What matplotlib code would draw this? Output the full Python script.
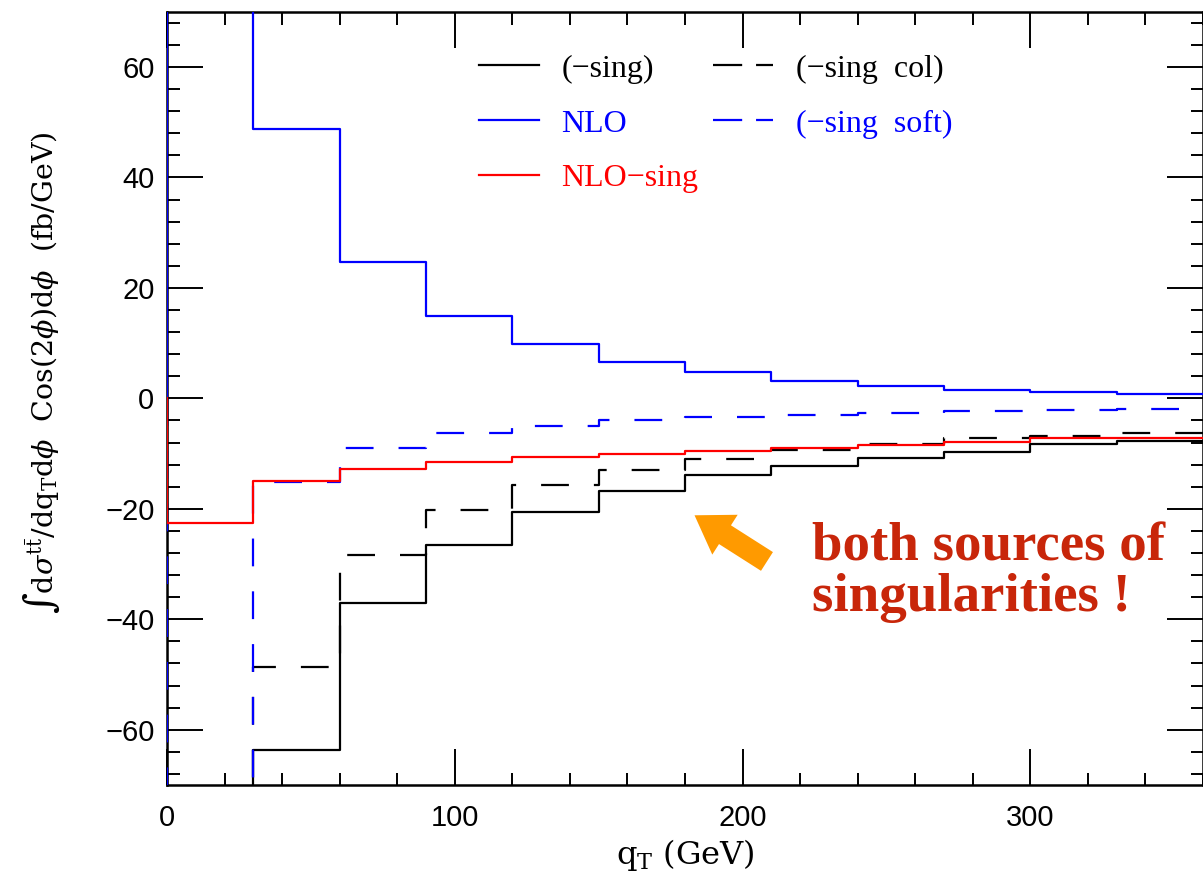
import numpy as np
import matplotlib
matplotlib.use("Agg")
import matplotlib.pyplot as plt
from matplotlib.lines import Line2D
from matplotlib.ticker import MultipleLocator

# bin edges in q_T (GeV) and bin contents (fb/GeV); first bin is off scale
qt_edges = [0, 30, 60, 90, 120, 150, 180, 210, 240, 270, 300, 330, 360]
nlo = [200.0, 48.7, 24.6, 15.0, 9.8, 6.6, 4.7, 3.2, 2.2, 1.5, 1.2, 0.8]
nlo_minus_sing = [-22.5, -14.9, -12.7, -11.5, -10.7, -10.1, -9.6, -8.9, -8.4, -7.85, -7.25, -7.1]
minus_sing = [-222.5, -63.6, -37.1, -26.5, -20.6, -16.7, -13.8, -12.3, -10.8, -9.7, -8.3, -7.8]
minus_sing_col = [-122.5, -48.6, -28.4, -20.2, -15.6, -12.9, -11.0, -9.4, -8.3, -7.2, -6.8, -6.2]
minus_sing_soft = [-100.0, -15.1, -8.9, -6.3, -4.95, -3.9, -3.4, -3.0, -2.6, -2.35, -2.1, -1.9]

plt.rcParams["lines.scale_dashes"] = False
plt.rcParams["mathtext.fontset"] = "dejavuserif"

fig = plt.figure(figsize=(12.03, 8.82), dpi=100)
ax = fig.add_axes([0.1388, 0.110, 0.8612, 0.8767])


def hist_line(values, **kw):
    # histogram outline that starts from zero at the first edge
    xs = np.r_[qt_edges[0], qt_edges]
    ys = np.r_[0.0, values, values[-1]]
    ax.plot(xs, ys, drawstyle="steps-post", lw=1.6, zorder=3, **kw)


dash = (20, 18)
hist_line(minus_sing, color="black")
hist_line(minus_sing_col, color="black", dashes=dash)
hist_line(nlo, color="#0000ff")
hist_line(minus_sing_soft, color="#0000ff", dashes=dash)
hist_line(nlo_minus_sing, color="#ff0000")

ax.set_xlim(0, 360)
ax.set_ylim(-70, 70)
ax.xaxis.set_major_locator(MultipleLocator(100))
ax.xaxis.set_minor_locator(MultipleLocator(20))
ax.yaxis.set_major_locator(MultipleLocator(20))
ax.yaxis.set_minor_locator(MultipleLocator(4))
ax.tick_params(which="both", direction="in", top=True, right=True, width=1.4)
ax.tick_params(which="major", length=26)
ax.tick_params(which="minor", length=9)
ax.tick_params(axis="x", pad=14)
ax.tick_params(axis="y", pad=9)
for lab in ax.get_xticklabels() + ax.get_yticklabels():
    lab.set_fontfamily("Liberation Sans")
    lab.set_fontsize(21)
for sp in ax.spines.values():
    sp.set_linewidth(1.8)
    sp.set_zorder(1)

ax.set_xlabel(r"q$_\mathrm{T}$ (GeV)", fontfamily="DejaVu Serif", fontsize=23, va="center")
ax.xaxis.set_label_coords(0.5, -0.091)
ax.set_ylabel(r"$\int\mathrm{d}\sigma^{\mathrm{t\bar{t}}}/\mathrm{dq_T d}\phi$  Cos(2$\phi$)d$\phi$  (fb/GeV)",
              fontfamily="DejaVu Serif", fontsize=20.5, va="center")
ax.yaxis.set_label_coords(-0.121, 0.533)

handles = [
    Line2D([], [], color="black", lw=1.6),
    Line2D([], [], color="#0000ff", lw=1.6),
    Line2D([], [], color="#ff0000", lw=1.6),
    Line2D([], [], color="black", lw=1.6, dashes=(21, 10)),
    Line2D([], [], color="#0000ff", lw=1.6, dashes=(21, 10)),
]
labels = ["(\u2212sing)", "NLO", "NLO\u2212sing", "(\u2212sing  col)", "(\u2212sing  soft)"]
leg = ax.legend(handles, labels, ncol=2, loc="upper left", bbox_to_anchor=(0.301, 0.945),
                frameon=False, borderpad=0, borderaxespad=0, handlelength=1.87,
                handletextpad=0.72, columnspacing=0.45, labelspacing=0.8,
                labelcolor="linecolor", prop={"family": "Liberation Serif", "size": 23})

ax.annotate("", xy=(182.5, -20.9), xytext=(209.3, -29.8),
            arrowprops=dict(arrowstyle="simple,head_length=26,head_width=34,tail_width=16",
                            mutation_scale=1, fc="#ff9a00", ec="none"))
ax.text(224, -31.6, "both sources of\nsingularities !", color="#c8260a",
        fontfamily="Liberation Serif", fontweight="bold", fontsize=39.5,
        ha="left", va="center", linespacing=1.02)

fig.savefig("out.png", dpi=100)
